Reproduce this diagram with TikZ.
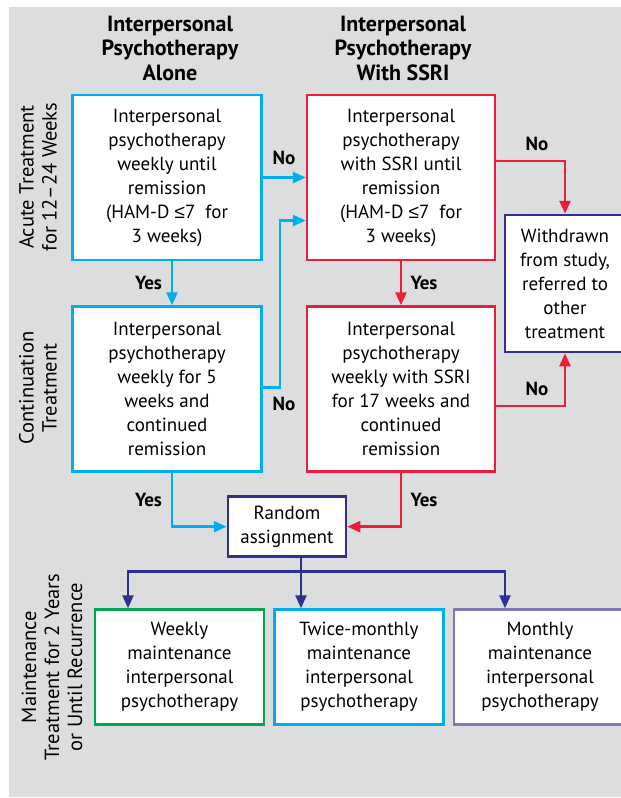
\documentclass[tikz,border=0pt]{standalone}
\usepackage{fontspec}
\setmainfont{PT Sans}
\newfontfamily\symfont{Liberation Sans}
\usetikzlibrary{arrows.meta}
\definecolor{ipcyan}{RGB}{0,174,239}
\definecolor{ipred}{RGB}{234,30,60}
\definecolor{ipnavy}{RGB}{46,49,146}
\definecolor{ipgreen}{RGB}{0,166,81}
\definecolor{ippurple}{RGB}{132,120,184}
\definecolor{bggray}{RGB}{220,221,222}
\newcommand{\lesym}{{\symfont ≤}}

\begin{document}
\begin{tikzpicture}[x=1pt,y=-1pt,line width=2.5pt,
    >={Triangle[length=13pt,width=11pt]},
    box/.style={draw=#1,fill=white,align=center,inner sep=0pt,font=\fontsize{19}{24}\selectfont},
    head/.style={align=center,font=\fontsize{22}{24.5}\selectfont\bfseries},
    phase/.style={rotate=90,align=center,font=\fontsize{20.5}{23}\selectfont},
    lbl/.style={font=\fontsize{19}{24}\selectfont\bfseries}]
                \useasboundingbox (0,0) rectangle (621,798);
                \fill[bggray] (9,7) rectangle (621,797);

                % column headings
                \node[head] (headalone) at (170,48) {Interpersonal\\Psychotherapy\\Alone};
                \node[head] (headssri) at (403,48) {Interpersonal\\Psychotherapy\\With SSRI};

                % phases
                \node[phase] (acute) at (38,177) {Acute Treatment\\for 12–24 Weeks};
                \node[phase] (cont) at (38,388) {Continuation\\Treatment};
                \node[phase] (maint) at (52,667) {Maintenance\\Treatment for 2 Years\\or Until Recurrence};

                % boxes
                \node[box=ipcyan,minimum width=189,minimum height=165] (A) at (167,177.5)
                    {Interpersonal\\psychotherapy\\weekly until\\remission\\(HAM-D \lesym7 \ for\\3 weeks)};
                \node[box=ipred,minimum width=188,minimum height=165] (B) at (401,177.5)
                    {Interpersonal\\psychotherapy\\with SSRI until\\remission\\(HAM-D \lesym7 \ for\\3 weeks)};
                \node[box=ipnavy,minimum width=120,minimum height=137] (W) at (565,283.5)
                    {Withdrawn\\from study,\\referred to\\other\\treatment};
                \node[box=ipcyan,minimum width=189,minimum height=165] (C) at (167,389)
                    {Interpersonal\\psychotherapy\\weekly for 5\\weeks and\\continued\\remission};
                \node[box=ipred,minimum width=188,minimum height=165] (D) at (401,389)
                    {Interpersonal\\psychotherapy\\weekly with SSRI\\for 17 weeks and\\continued\\remission};
                \node[box=ipnavy,minimum width=118,minimum height=60] (R) at (287,526.7)
                    {Random\\assignment};
                \node[box=ipgreen,minimum width=169,minimum height=115] (E) at (179.5,667)
                    {Weekly\\maintenance\\interpersonal\\psychotherapy};
                \node[box=ipcyan,minimum width=169,minimum height=115] (F) at (359,667)
                    {Twice-monthly\\maintenance\\interpersonal\\psychotherapy};
                \node[box=ippurple,minimum width=172,minimum height=115] (G) at (540,667)
                    {Monthly\\maintenance\\interpersonal\\psychotherapy};

                % arrows
                \draw[->,ipcyan] (A) -- (B);
                \draw[->,ipred] ([yshift=16.5pt]B.east) -| (W.north);
                \draw[->,ipcyan] ([xshift=5pt]A.south) -- ([xshift=5pt]C.north);
                \draw[->,ipred] (B) -- (D);
                \draw[->,ipcyan] ([yshift=1.5pt]C.east) -- ++(17,0) |- ([yshift=-43pt]B.west);
                \draw[->,ipred] ([yshift=-17pt]D.east) -| (W.south);
                \draw[->,ipcyan] ([xshift=5pt]C.south) |- (R);
                \draw[->,ipred] (D.south) |- (R);

                \coordinate (split) at (301,571.7);
                \draw[ipnavy] ([xshift=14pt]R.south) -- (split);
                \draw[->,ipnavy] (split) -| ([xshift=-51.5pt]E.north);
                \draw[->,ipnavy] (split) -- ([xshift=-58pt]F.north);
                \draw[->,ipnavy] (split) -| ([xshift=-35pt]G.north);

                % labels
                \node[lbl] (noab) at (284,158) {No};
                \node[lbl] (nobw) at (537,144) {No};
                \node[lbl] (yesac) at (148.5,283) {Yes};
                \node[lbl] (yesbd) at (424,283) {Yes};
                \node[lbl] (nocb) at (284,404) {No};
                \node[lbl] (nodw) at (537,389) {No};
                \node[lbl] (yescr) at (148.5,500) {Yes};
                \node[lbl] (yesdr) at (424,500) {Yes};
            \end{tikzpicture}
\end{document}
